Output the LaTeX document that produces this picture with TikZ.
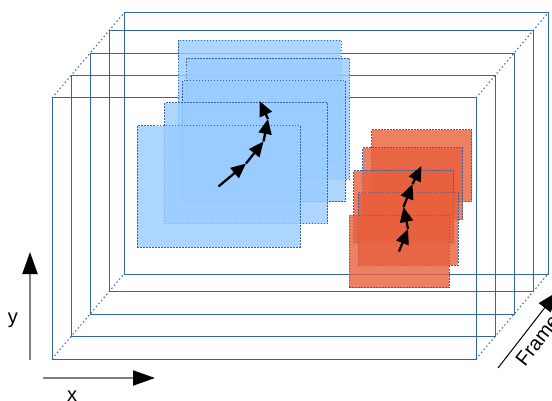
\documentclass[tikz,border=0pt]{standalone}
\usepackage{fontspec}
\setmainfont{Liberation Sans}
\usepackage{xcolor}
\usetikzlibrary{arrows.meta}
\definecolor{framecol}{HTML}{3564A6}
\definecolor{bluefill}{HTML}{99CCFF}
\definecolor{redfill}{HTML}{E8603C}
\definecolor{axisgray}{HTML}{7F7F7F}
\tikzset{
    frameline/.style={framecol, line width=1pt},
    depthline/.style={framecol, line width=1pt, dash pattern=on 1.5pt off 2.5pt},
    blueblock/.style={draw=framecol, fill=bluefill, fill opacity=.8, line width=1pt, dash pattern=on 1.5pt off 1.5pt, minimum width=163pt, minimum height=121pt, inner sep=0pt, outer sep=0pt},
    redblock/.style={blueblock, fill=redfill, minimum width=100pt, minimum height=72pt},
    motion/.style={line width=2.3pt, -{Triangle[length=15pt,width=13pt]}},
    axisline/.style={axisgray, line width=2pt, -{Triangle[length=22pt,width=15pt,color=black]}},
}

\begin{document}
\begin{tikzpicture}[x=1pt, y=-1pt, font=\fontsize{20}{22}\selectfont]
    \clip (0,0) rectangle (552,401);

    \foreach \d/\e in {0/0, 19/22.4, 38/44.8, 57/67.3, 72/85}
        \draw[frameline] (52+\d, 359-\e) rectangle ++(424,-261);
    \draw[depthline] (52,359) -- (124,274);
    \draw[depthline] (52,98) -- (124,13);
    \draw[depthline] (476,98) -- (548,13);
    \draw[depthline] (476,359) -- (548,274);

    \node[blueblock] (b5) at (259.5,101) {};
    \node[blueblock] (b4) at (268,119) {};
    \node[blueblock] (b3) at (263.5,141.5) {};
    \node[blueblock] (b2) at (246,163.5) {};
    \node[blueblock] (b1) at (218.5,186.5) {};

    \node[redblock] (r5) at (421.5,166) {};
    \node[redblock] (r4) at (412.5,184) {};
    \node[redblock] (r3) at (403.5,207) {};
    \node[redblock] (r2) at (408,229) {};
    \node[redblock] (r1) at (399,251.5) {};

    \foreach \a/\b in {b1/b2, b2/b3, b3/b4, b4/b5, r1/r2, r2/r3, r3/r4, r4/r5}
        \draw[motion] (\a.center) -- (\b.center);

    \coordinate (yfrom) at (30,360);
    \coordinate (yto) at (30,252);
    \coordinate (xfrom) at (43,378);
    \coordinate (xto) at (155,378);
    \draw[axisline] (yfrom) -- (yto);
    \draw[axisline] (xfrom) -- (xto);
    \node (ylabel) at (13,320) {y};
    \node (xlabel) at (72,396) {x};

    \coordinate (zfrom) at (498,368);
    \coordinate (zto) at (557,292);
    \draw[line width=1pt, -{Triangle[length=20pt,width=15pt]}] (zfrom) -- (zto);
    \node[rotate=52, anchor=base west] (zlabel) at (523,370) {Frames};
\end{tikzpicture}
\end{document}
